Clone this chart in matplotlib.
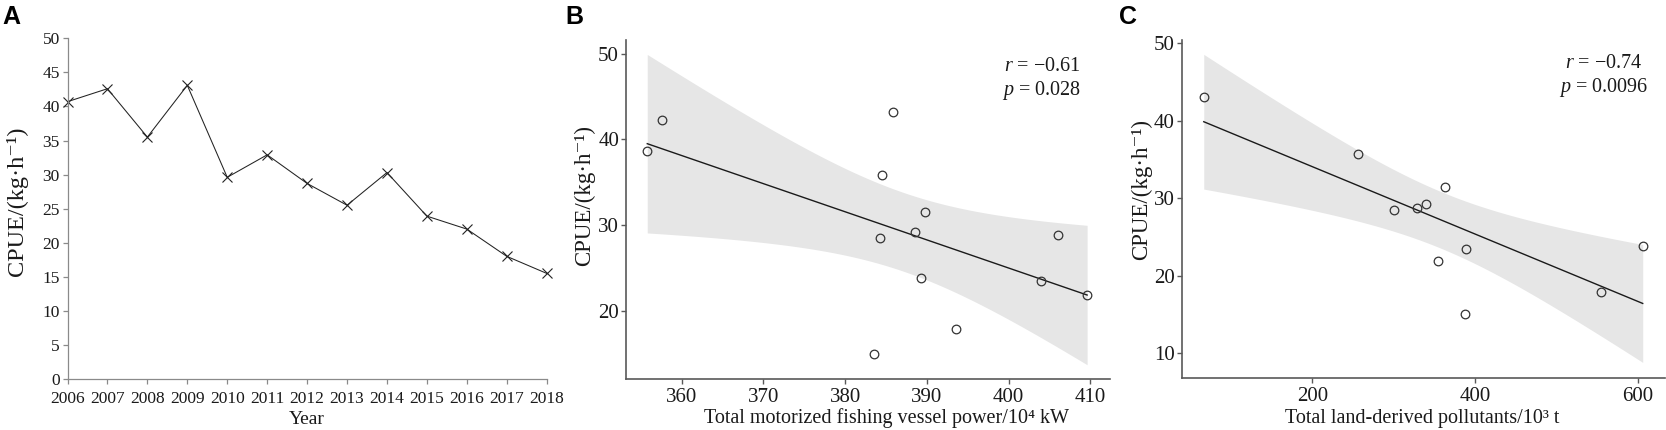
import numpy as np
import matplotlib
matplotlib.use("Agg")
import matplotlib.pyplot as plt

# ---------------- data ----------------
years = [2006, 2007, 2008, 2009, 2010, 2011, 2012, 2013, 2014, 2015, 2016, 2017, 2018]
cpue_a = [40.7, 42.6, 35.5, 43.1, 29.6, 32.9, 28.7, 25.5, 30.3, 23.9, 22.0, 18.0, 15.5]

power_b = [355.8, 357.6, 385.9, 384.5, 389.8, 388.6, 384.3, 406.0, 389.3, 403.9, 409.6, 393.6, 383.5]
cpue_b = [38.6, 42.3, 43.2, 35.8, 31.5, 29.2, 28.5, 28.8, 23.8, 23.4, 21.8, 17.8, 14.9]

pollut_c = [66.5, 256.4, 300.9, 328.9, 339.4, 362.8, 354.1, 389.0, 387.6, 554.6, 606.0]
cpue_c = [43.1, 35.7, 28.5, 28.8, 29.2, 31.5, 21.9, 23.5, 15.1, 17.9, 23.8]

stats_b = ("\u22120.61", "0.028")
stats_c = ("\u22120.74", "0.0096")

ylabel = "CPUE/(kg\u00b7h\u207b\u00b9)"
xlabel_b = "Total motorized fishing vessel power/10\u2074 kW"
xlabel_c = "Total land-derived pollutants/10\u00b3 t"

# t critical values (95 %, two sided) by degrees of freedom
T95 = {9: 2.2622, 11: 2.2010}

plt.rcParams['font.family'] = ['Liberation Serif', 'DejaVu Serif']
plt.rcParams['mathtext.fontset'] = 'custom'
plt.rcParams['mathtext.rm'] = 'Liberation Serif'
plt.rcParams['mathtext.it'] = 'Liberation Serif:italic'

W, H = 1666, 430
fig = plt.figure(figsize=(W / 100, H / 100), dpi=100)


def fpos(left, top, right, bottom):
    return [left / W, 1 - bottom / H, (right - left) / W, (bottom - top) / H]


def ftext(x, y, s, **kw):
    fig.text(x / W, 1 - y / H, s, **kw)


# ---------------- panel A ----------------
axA = fig.add_axes(fpos(67.5, 38.3, 546.7, 379))
axA.plot(years, cpue_a, color='#222222', lw=0.75, marker='x', ms=7,
         mew=0.8, clip_on=False)
axA.set_xlim(2006, 2018)
axA.set_ylim(0, 50)
axA.set_xticks(years)
axA.set_yticks(np.arange(0, 51, 5))
for s in ['top', 'right']:
    axA.spines[s].set_visible(False)
for s in ['left', 'bottom']:
    axA.spines[s].set_color('#8a8a8a')
    axA.spines[s].set_linewidth(0.9)
axA.tick_params(direction='out', length=3.5, width=0.9, color='#8a8a8a',
                labelsize=12.5, labelcolor='#1a1a1a')
axA.tick_params(axis='x', pad=5)
axA.tick_params(axis='y', pad=2)
ftext(16.7, 201, ylabel, rotation=90, ha='center',
      va='center', fontsize=17.5, color='#1a1a1a')
ftext(307, 420, 'Year', ha='center', va='center', fontsize=14, color='#1a1a1a')


# ---------------- scatter panels ----------------
def scatter_panel(ax, x, y, xlim, ylim, xticks, yticks):
    x = np.asarray(x, float)
    y = np.asarray(y, float)
    n = len(x)
    A = np.vstack([x, np.ones(n)]).T
    (b1, b0), *_ = np.linalg.lstsq(A, y, rcond=None)
    resid = y - (b1 * x + b0)
    s = np.sqrt(np.sum(resid ** 2) / (n - 2))
    xx = np.linspace(x.min(), x.max(), 80)
    yy = b1 * xx + b0
    se = s * np.sqrt(1 / n + (xx - x.mean()) ** 2 / np.sum((x - x.mean()) ** 2))
    t = T95[n - 2]
    ax.fill_between(xx, yy - t * se, yy + t * se, color='#e6e6e6', lw=0, zorder=1)
    ax.plot(xx, yy, color='#1a1a1a', lw=1.0, zorder=2)
    ax.plot(x, y, ls='none', marker='o', ms=6.2, mfc='none', mec='#333333',
            mew=0.9, zorder=3, clip_on=False)
    ax.set_xlim(*xlim)
    ax.set_ylim(*ylim)
    ax.set_xticks(xticks)
    ax.set_yticks(yticks)
    for sp in ['top', 'right']:
        ax.spines[sp].set_visible(False)
    for sp in ['left', 'bottom']:
        ax.spines[sp].set_color('#595959')
        ax.spines[sp].set_linewidth(1.2)
    ax.tick_params(direction='out', length=3.5, width=1.0, color='#595959',
                   labelsize=15, labelcolor='#1a1a1a')
    ax.tick_params(axis='x', pad=3)
    ax.tick_params(axis='y', pad=1.5)


axB = fig.add_axes(fpos(626, 40, 1110, 379))
scatter_panel(axB, power_b, cpue_b, (353.2, 412.4), (12.0, 51.6),
              [360, 370, 380, 390, 400, 410], [20, 30, 40, 50])
ftext(585, 195, ylabel, rotation=90, ha='center',
      va='center', fontsize=16.5, color='#1a1a1a')
ftext(886.5, 418, xlabel_b, ha='center', va='center', fontsize=14.5,
      color='#1a1a1a')
ftext(1042, 66.7, r'$r$ = ' + stats_b[0], ha='center', va='center',
      fontsize=14.5, color='#1a1a1a')
ftext(1042, 90, r'$p$ = ' + stats_b[1], ha='center', va='center',
      fontsize=14.5, color='#1a1a1a')

axC = fig.add_axes(fpos(1181.7, 40, 1665, 378.3))
scatter_panel(axC, pollut_c, cpue_c, (39.4, 633.4), (6.8, 50.4),
              [200, 400, 600], [10, 20, 30, 40, 50])
ftext(1141.7, 190, ylabel, rotation=90, ha='center',
      va='center', fontsize=16.5, color='#1a1a1a')
ftext(1422, 418, xlabel_c, ha='center', va='center', fontsize=14.5,
      color='#1a1a1a')
ftext(1604, 64, r'$r$ = ' + stats_c[0], ha='center', va='center',
      fontsize=14.5, color='#1a1a1a')
ftext(1604, 87.3, r'$p$ = ' + stats_c[1], ha='center', va='center',
      fontsize=14.5, color='#1a1a1a')

# panel letters
for x, lab in [(2, 'A'), (565, 'B'), (1119, 'C')]:
    ftext(x, 5, lab, ha='left', va='top', fontsize=18, fontweight='bold',
          family=['Liberation Sans', 'DejaVu Sans'], color='black')

fig.savefig('out.png', dpi=100)
